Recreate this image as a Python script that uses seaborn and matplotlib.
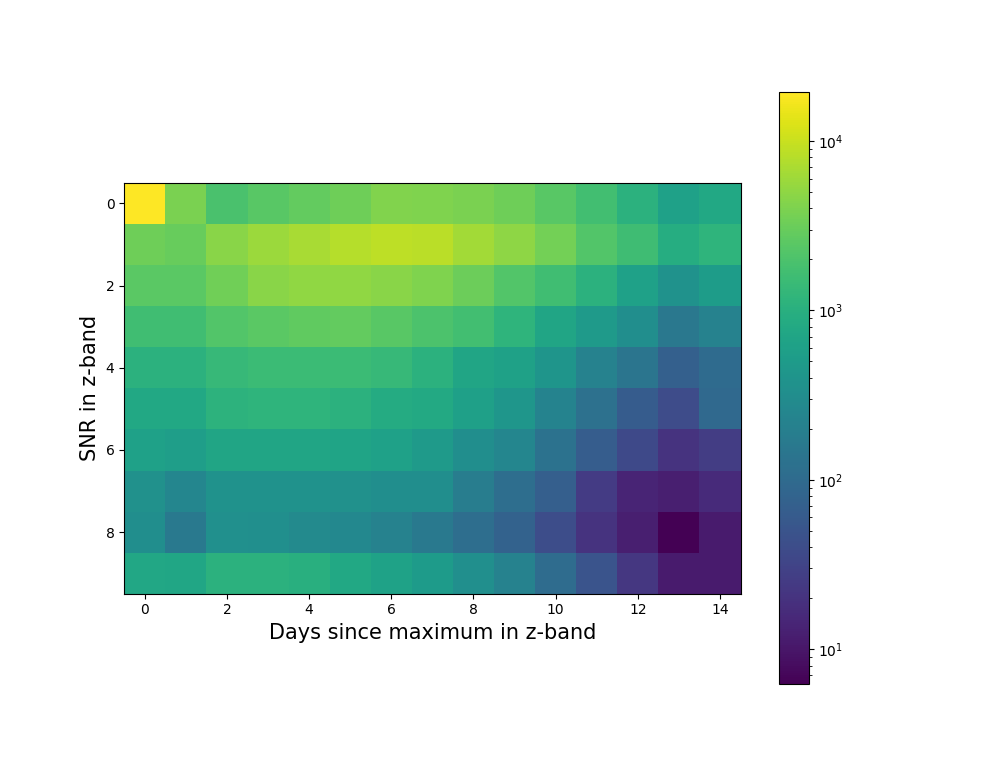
# 2D histogram of detections: SNR vs days since maximum (z-band)

import numpy as np
import matplotlib
matplotlib.use("Agg")
import matplotlib.pyplot as plt
import seaborn as sns
from matplotlib.colors import LogNorm
from matplotlib.ticker import LogLocator

days = list(range(15))
snr_bins = list(range(10))

# counts per SNR row
snr0 = [19400, 3900, 1900, 2400, 2800, 3300, 4200, 4100, 3900, 3300, 2400, 1700, 1070, 600, 780]
snr1 = [3300, 3000, 4600, 5800, 6700, 7900, 8700, 8500, 6300, 4900, 3500, 2200, 1600, 910, 1150]
snr2 = [2500, 2500, 3400, 4700, 5100, 5100, 4600, 4100, 3150, 2200, 1650, 1070, 600, 370, 510]
snr3 = [1650, 1650, 2200, 2500, 2700, 2800, 2400, 2000, 1700, 1150, 710, 480, 320, 155, 215]
snr4 = [1070, 1070, 1350, 1500, 1500, 1500, 1350, 1070, 700, 630, 410, 215, 140, 70, 100]
snr5 = [780, 780, 1100, 1150, 1150, 1050, 850, 800, 590, 420, 230, 120, 63, 39, 95]
snr6 = [600, 540, 710, 710, 710, 680, 600, 480, 320, 250, 130, 65, 37, 20, 26]
snr7 = [350, 250, 380, 380, 380, 350, 320, 320, 180, 110, 68, 25, 14, 12, 16]
snr8 = [320, 160, 340, 330, 280, 265, 215, 160, 110, 75, 40, 20, 12, 6.2, 11]
snr9 = [750, 720, 1070, 1070, 1000, 780, 640, 500, 330, 210, 105, 50, 22, 11, 11]

counts = np.array([snr0, snr1, snr2, snr3, snr4, snr5, snr6, snr7, snr8, snr9])

fig = plt.figure(figsize=(9.94, 7.69), dpi=100)
ax = fig.add_subplot(111)

ax = sns.heatmap(counts, ax=ax, cmap="viridis",
                 norm=LogNorm(vmin=counts.min(), vmax=counts.max()),
                 square=True, xticklabels=False, yticklabels=False,
                 cbar_kws={"ticks": LogLocator()})

# imshow-like ticks at cell centres
ax.set_xticks(np.array(days[::2]) + 0.5)
ax.set_xticklabels(days[::2], rotation=0)
ax.set_yticks(np.array(snr_bins[::2]) + 0.5)
ax.set_yticklabels(snr_bins[::2], rotation=0)
ax.tick_params(length=3.5, width=0.8, labelsize=10)

for s in ax.spines.values():
    s.set_visible(True)
    s.set_linewidth(0.8)
    s.set_color("black")

cbar = ax.collections[0].colorbar
cbar.outline.set_linewidth(0.8)
cbar.outline.set_edgecolor("black")

plt.xlabel("Days since maximum in z-band", fontsize=15)
plt.ylabel("SNR in z-band", fontsize=15)

plt.savefig("out.png", dpi=100)
